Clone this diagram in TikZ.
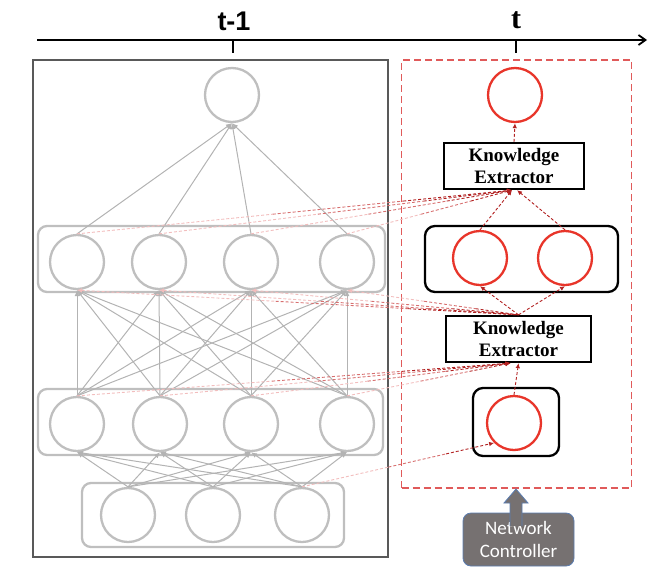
\documentclass[tikz,border=0pt]{standalone}
\usepackage{fontspec}
\setmainfont{Liberation Serif}
\newfontfamily\arialf{Liberation Sans}
\newfontfamily\calibf{Carlito}
\usetikzlibrary{arrows.meta,calc}
\definecolor{gcirc}{HTML}{BFBFBF}
\definecolor{gline}{HTML}{B3B3B3}
\definecolor{lbox}{HTML}{595959}
\definecolor{rcirc}{HTML}{E8352A}
\definecolor{rbox}{HTML}{E05A5A}
\definecolor{kdark}{HTML}{B22222}
\definecolor{kmid}{HTML}{D77070}
\definecolor{kpink}{HTML}{F2BDBD}
\definecolor{ncfill}{HTML}{767171}
\definecolor{ncedge}{HTML}{5B7DB1}
\tikzset{
  gnode/.style={circle,draw=gcirc,line width=2.3pt,fill=white,minimum size=54pt,inner sep=0pt},
  rnode/.style={circle,draw=rcirc,line width=2.3pt,fill=white,minimum size=54pt,inner sep=0pt},
  glayer/.style={rectangle,rounded corners=9pt,draw=gcirc,line width=2.3pt},
  blayer/.style={rectangle,rounded corners=10pt,draw=black,line width=2.3pt},
  kebox/.style={rectangle,draw=black,line width=2.3pt,fill=white,inner sep=0pt,align=center,
    font=\bfseries\fontsize{19}{21.5}\selectfont},
  garrow/.style={draw=gline,line width=1pt,-{Latex[length=6pt,width=5pt]}},
  kd/.style={line width=0.9pt,dash pattern=on 3pt off 2pt},
  karrow/.style={kd,draw=kdark,-{Latex[length=5pt,width=4.5pt]}},
}
\newcommand{\kline}[4]{%
  \draw[kd,kpink,#1] (#3) -- ($(#3)!0.45!(#4)$);
  \draw[kd,kmid] ($(#3)!0.45!(#4)$) -- ($(#3)!0.75!(#4)$);
  \draw[kd,kdark,#2] ($(#3)!0.75!(#4)$) -- (#4);}
\begin{document}
\begin{tikzpicture}[x=1pt,y=-1pt]
\useasboundingbox (0,0) rectangle (664,582);
% timeline
\coordinate (tl0) at (37,40);
\coordinate (tl1) at (647,40);
\draw[line width=1.8pt,-{Straight Barb[length=7pt,width=10pt]}] (tl0) -- (tl1);
\coordinate (tk1) at (233,40); \coordinate (tk1e) at (233,53);
\coordinate (tk2) at (516,40); \coordinate (tk2e) at (516,53);
\draw[line width=1.5pt] (tk1) -- (tk1e);
\draw[line width=1.5pt] (tk2) -- (tk2e);
\node[font=\arialf\bfseries\fontsize{27}{30}\selectfont] (lt1) at (234,21) {t-1};
\node[font=\bfseries\fontsize{30}{32}\selectfont] (lt) at (516,20) {t};
% boxes
\node[rectangle,draw=lbox,line width=1.2pt,minimum width=355pt,minimum height=497pt] (leftbox) at (210.5,308.5) {};
\node[rectangle,draw=rbox,line width=1.2pt,dash pattern=on 7pt off 4pt,minimum width=230pt,minimum height=428pt] (redbox) at (516.5,274) {};
\node[glayer,minimum width=347pt,minimum height=66pt] (l3box) at (211.5,259) {};
\node[glayer,minimum width=345pt,minimum height=66pt] (l2box) at (210.5,422) {};
\node[glayer,minimum width=262pt,minimum height=64pt] (inbox) at (213,515) {};
\node[blayer,minimum width=193pt,minimum height=66pt] (rmbox) at (521.5,259) {};
\node[blayer,minimum width=86pt,minimum height=68pt] (rbbox) at (516,422) {};
% gray network nodes
\node[gnode] (gtop) at (232,95) {};
\node[gnode] (g3a) at (77,262) {};
\node[gnode] (g3b) at (159,262) {};
\node[gnode] (g3c) at (251,262) {};
\node[gnode] (g3d) at (347,262) {};
\node[gnode] (g2a) at (77,424) {};
\node[gnode] (g2b) at (160,424) {};
\node[gnode] (g2c) at (251,424) {};
\node[gnode] (g2d) at (347,424) {};
\node[gnode] (gia) at (128,515) {};
\node[gnode] (gib) at (213,515) {};
\node[gnode] (gic) at (302,515) {};
% gray connectors
\foreach \s in {g3a,g3b,g3c,g3d} \draw[garrow] (\s.north) -- (gtop.south);
\foreach \s in {g2a,g2b,g2c,g2d} \foreach \t in {g3a,g3b,g3c,g3d} \draw[garrow] (\s.north) -- (\t.south);
\foreach \s in {gia,gib,gic} \foreach \t in {g2a,g2b,g2c,g2d} \draw[garrow] (\s.north) -- (\t.south);
% red nodes
\node[rnode] (rtop) at (515,95) {};
\node[rnode] (rm1) at (480,258) {};
\node[rnode] (rm2) at (565,258) {};
\node[rnode] (rb) at (514,423) {};
% knowledge extractors
\node[kebox,minimum width=140pt,minimum height=46pt] (ke2) at (514,166) {Knowledge\\Extractor};
\node[kebox,minimum width=145pt,minimum height=46pt] (ke1) at (518.5,339) {Knowledge\\Extractor};
\coordinate (ke2in) at ([xshift=-2pt]ke2.south);
\coordinate (ke1in) at ([xshift=-8pt]ke1.south);
% dashed knowledge connectors
\foreach \s in {g3a,g3b,g3c,g3d} {\kline{}{-{Latex[length=5pt,width=4.5pt]}}{\s.north}{ke2in}}
\foreach \s in {g3a,g3b,g3c,g3d} {\kline{{Latex[length=5pt,width=4.5pt]}-}{}{\s.south}{ke1.north}}
\foreach \s in {g2a,g2b,g2c,g2d} {\kline{}{-{Latex[length=5pt,width=4.5pt]}}{\s.north}{ke1in}}
\kline{}{-{Latex[length=5pt,width=4.5pt]}}{gic.north}{rb.south west}
\draw[karrow] (rm1.north) -- ([xshift=-2pt]ke2.south);
\draw[karrow] (rm2.north) -- ([xshift=3pt]ke2.south);
\draw[karrow] (ke2.north) -- (rtop.south);
\draw[karrow] (ke1.north) -- (rm1.south);
\draw[karrow] (ke1.north) -- (rm2.south);
\draw[karrow] (rb.north) -- (ke1.south);
% network controller
\node[rectangle,rounded corners=8pt,fill=ncfill,draw=ncedge,line width=0.8pt,minimum width=111pt,minimum height=53pt,
  text=white,align=center,font=\calibf\fontsize{19}{23}\selectfont] (nc) at (518.5,539.5) {Network\\Controller};
\coordinate (ncA) at (510,526);
\draw[fill=ncfill,draw=ncedge,line width=0.8pt] (ncA) -- (510,503) -- (504,503) -- (516,489) -- (528,503) -- (522,503) -- (522,526);
\end{tikzpicture}
\end{document}
